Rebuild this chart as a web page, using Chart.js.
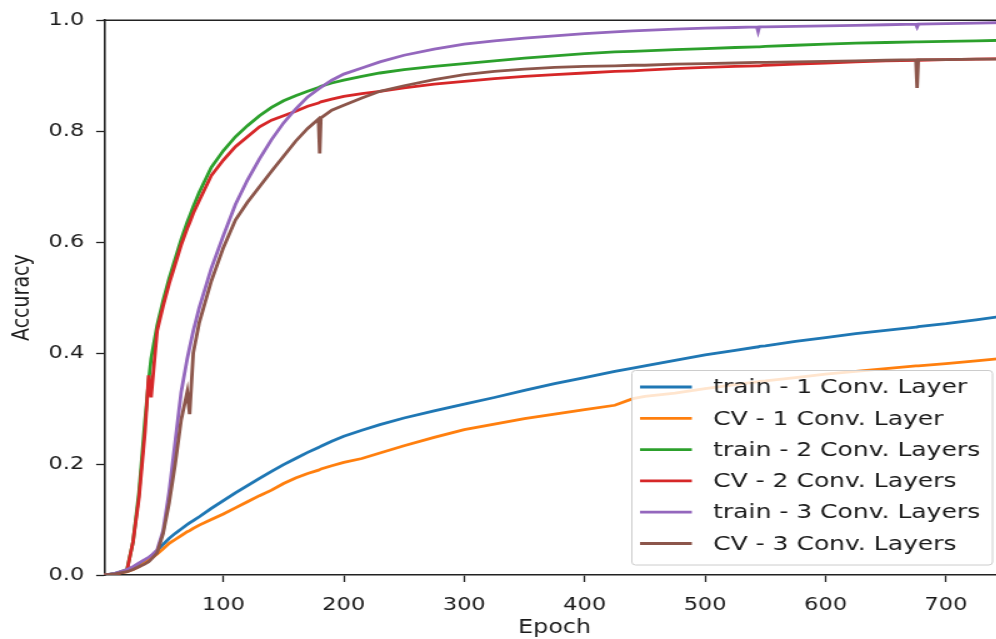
<!DOCTYPE html>
<html>
<head>
<meta charset="utf-8">
<script src="https://cdn.jsdelivr.net/npm/chart.js@4.4.1/dist/chart.umd.min.js"></script>
<style>
html,body{margin:0;padding:0;background:#fff;overflow:hidden;}
#accChart{display:block;}
</style>
</head>
<body>
<!-- drawn at 804 wide and widened to 1005 on screen, the right end falls outside the window -->
<canvas id="accChart" width="804" height="639" style="width:1005px;height:639px;"></canvas>
<script>

// epochs the accuracy was sampled at
const epochs = [1,10,20,25,30,35,38,40,45,50,55,60,65,70,72,75,80,90,100,110,120,130,140,150,160,170,179,180,181,190,200,215,230,250,275,300,325,350,375,400,425,440,450,475,500,525,543,544,545,550,575,600,625,650,675,676,677,700,725,749];

// 1 conv layer
const trainAcc1 = [0.000,0.003,0.008,0.012,0.018,0.025,0.030,0.034,0.044,0.055,
0.066,0.075,0.083,0.091,0.094,0.098,0.105,0.120,0.134,0.148,
0.161,0.174,0.187,0.199,0.210,0.221,0.230,0.231,0.232,0.241,
0.250,0.261,0.271,0.283,0.296,0.308,0.320,0.333,0.345,0.356,
0.367,0.373,0.377,0.387,0.397,0.405,0.411,0.411,0.412,0.413,
0.421,0.428,0.435,0.441,0.447,0.447,0.448,0.453,0.460,0.467];
const cvAcc1 = [0.000,0.002,0.006,0.010,0.015,0.022,0.027,0.030,0.038,0.047,
0.057,0.064,0.071,0.078,0.080,0.084,0.090,0.100,0.110,0.121,
0.132,0.143,0.153,0.165,0.175,0.183,0.189,0.190,0.191,0.197,
0.203,0.210,0.220,0.233,0.248,0.262,0.272,0.282,0.290,0.298,
0.306,0.318,0.322,0.328,0.336,0.343,0.348,0.348,0.349,0.350,
0.356,0.362,0.367,0.372,0.377,0.377,0.377,0.381,0.386,0.391];

// 2 conv layers
const trainAcc2 = [0.000,0.002,0.010,0.060,0.150,0.280,0.350,0.390,0.450,0.495,
0.535,0.570,0.605,0.636,0.647,0.664,0.690,0.735,0.765,0.790,
0.810,0.828,0.843,0.855,0.864,0.872,0.879,0.880,0.881,0.887,
0.892,0.899,0.905,0.911,0.917,0.922,0.927,0.932,0.936,0.940,
0.943,0.944,0.945,0.947,0.949,0.951,0.952,0.952,0.952,0.953,
0.955,0.957,0.959,0.960,0.961,0.961,0.961,0.962,0.963,0.964];
const cvAcc2 = [0.000,0.001,0.008,0.060,0.140,0.260,0.360,0.320,0.440,0.485,
0.525,0.560,0.595,0.625,0.635,0.652,0.675,0.720,0.748,0.772,
0.790,0.808,0.820,0.828,0.836,0.845,0.851,0.852,0.853,0.858,
0.863,0.868,0.872,0.878,0.885,0.890,0.895,0.899,0.902,0.905,
0.908,0.909,0.910,0.913,0.915,0.917,0.918,0.918,0.918,0.919,
0.921,0.923,0.925,0.927,0.928,0.928,0.928,0.929,0.930,0.931];

// 3 conv layers
const trainAcc3 = [0.000,0.003,0.010,0.015,0.022,0.028,0.032,0.035,0.045,0.080,
0.150,0.240,0.330,0.390,0.410,0.440,0.482,0.553,0.612,0.668,
0.712,0.750,0.785,0.815,0.840,0.862,0.876,0.878,0.879,0.892,
0.903,0.914,0.925,0.937,0.948,0.957,0.963,0.968,0.972,0.976,
0.979,0.981,0.982,0.984,0.986,0.987,0.988,0.980,0.988,0.988,
0.989,0.990,0.991,0.992,0.993,0.988,0.993,0.994,0.995,0.996];
const cvAcc3 = [0.000,0.002,0.006,0.010,0.015,0.020,0.024,0.028,0.040,0.075,
0.130,0.200,0.280,0.330,0.290,0.400,0.455,0.530,0.590,0.640,
0.672,0.700,0.728,0.755,0.782,0.805,0.822,0.760,0.824,0.838,
0.847,0.860,0.872,0.882,0.893,0.902,0.908,0.912,0.915,0.917,
0.918,0.919,0.919,0.921,0.922,0.923,0.924,0.924,0.924,0.924,
0.925,0.926,0.927,0.928,0.929,0.878,0.929,0.929,0.930,0.930];

const seriesLabels = ["train - 1 Conv. Layer","CV - 1 Conv. Layer","train - 2 Conv. Layers","CV - 2 Conv. Layers","train - 3 Conv. Layers","CV - 3 Conv. Layers"];
const seriesValues = [trainAcc1,cvAcc1,trainAcc2,cvAcc2,trainAcc3,cvAcc3];
const seriesColors = ["#1f77b4","#ff7f0e","#2ca02c","#d62728","#9467bd","#8c564b"];

const xTicks = [100,200,300,400,500,600,700];
const yTicks = [0,0.2,0.4,0.6,0.8,1.0];

const FONT = "'DejaVu Sans', sans-serif";
const INK = "#1a1a1a";


// later series sit on top, like the plotting order
const datasets = seriesValues.map((vals,i)=>({
label:seriesLabels[i],
data:epochs.map((e,j)=>({x:e,y:vals[j]})),
borderColor:seriesColors[i],
backgroundColor:seriesColors[i],
borderWidth:2.8,
pointRadius:0,
tension:0,
fill:false,
order:seriesValues.length-i
}));


// top spine (no right spine, it is cut off)
const topSpine = {
id:"topSpine",
afterDraw(chart){
const a = chart.chartArea;
const ctx = chart.ctx;
ctx.save();
ctx.strokeStyle = "#222";
ctx.lineWidth = 1.6;
ctx.beginPath();
ctx.moveTo(a.left-0.8,a.top);
ctx.lineTo(chart.width,a.top);
ctx.stroke();
ctx.restore();
}
};


// boxed legend inside the plot, lower right
const boxLegend = {
id:"boxLegend",
afterDatasetsDraw(chart){
const ctx = chart.ctx;
const box = {left:505.5,top:370.5,right:794,bottom:565};
const r = 3;

ctx.save();
ctx.beginPath();
ctx.moveTo(box.left+r,box.top);
ctx.lineTo(box.right-r,box.top);
ctx.quadraticCurveTo(box.right,box.top,box.right,box.top+r);
ctx.lineTo(box.right,box.bottom-r);
ctx.quadraticCurveTo(box.right,box.bottom,box.right-r,box.bottom);
ctx.lineTo(box.left+r,box.bottom);
ctx.quadraticCurveTo(box.left,box.bottom,box.left,box.bottom-r);
ctx.lineTo(box.left,box.top+r);
ctx.quadraticCurveTo(box.left,box.top,box.left+r,box.top);
ctx.closePath();
ctx.fillStyle = "rgba(255,255,255,0.8)";
ctx.fill();
ctx.strokeStyle = "#cccccc";
ctx.lineWidth = 1;
ctx.stroke();

ctx.font = "20px "+FONT;
ctx.textBaseline = "middle";
ctx.textAlign = "left";

chart.data.datasets.forEach((ds,i)=>{
const y = 387 + i*31.3;
ctx.strokeStyle = ds.borderColor;
ctx.lineWidth = 2.8;
ctx.beginPath();
ctx.moveTo(512,y);
ctx.lineTo(553.5,y);
ctx.stroke();
ctx.fillStyle = INK;
ctx.fillText(ds.label,570.5,y+1);
});

ctx.restore();
}
};


new Chart(document.getElementById("accChart"),{
type:"line",
data:{datasets:datasets},
options:{
responsive:false,
devicePixelRatio:1,
animation:false,
layout:{padding:{top:19,left:0,right:0,bottom:0}},
plugins:{
legend:{display:false},
tooltip:{enabled:false}
},
scales:{
x:{
type:"linear",
min:1,
max:749,
afterBuildTicks:s=>{s.ticks = xTicks.map(v=>({value:v}));},
afterFit:s=>{s.height = 64;},
ticks:{
color:INK,
font:{family:FONT,size:18},
padding:12.5,
maxRotation:0
},
grid:{drawOnChartArea:false,drawTicks:true,tickLength:7,tickWidth:1.3,tickColor:"#222"},
border:{display:true,color:"#222",width:1.6},
title:{
display:true,
text:"Epoch",
color:INK,
font:{family:FONT,size:19},
padding:{top:0,bottom:0}
}
},
y:{
type:"linear",
min:0,
max:1,
afterBuildTicks:s=>{s.ticks = yTicks.map(v=>({value:v}));},
afterFit:s=>{s.width = 83.3;},
ticks:{
color:INK,
font:{family:FONT,size:18},
padding:9.5,
callback:v=>Number(v).toFixed(1)
},
grid:{drawOnChartArea:false,drawTicks:true,tickLength:6.4,tickWidth:1.3,tickColor:"#222"},
border:{display:true,color:"#222",width:1.6},
title:{
display:true,
text:"Accuracy",
color:INK,
font:{family:FONT,size:19},
padding:{top:6.2,bottom:0}
}
}
}
},
plugins:[topSpine,boxLegend]
});

</script>
</body>
</html>
